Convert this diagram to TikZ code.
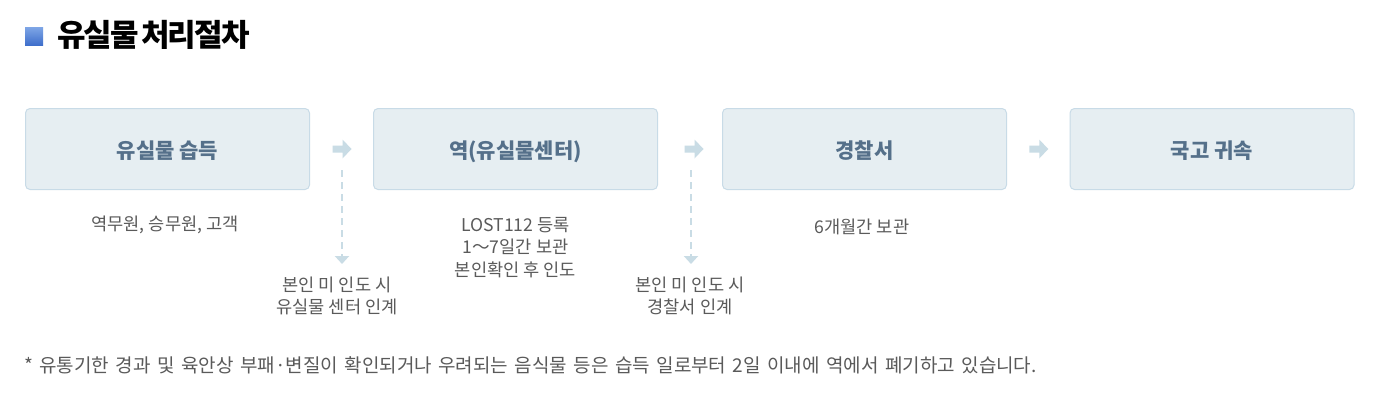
\documentclass[tikz,border=0pt]{standalone}
\usepackage{fontspec}
\setmainfont{Noto Sans CJK KR}
\usetikzlibrary{arrows.meta}
\definecolor{boxfill}{HTML}{E6EEF2}
\definecolor{boxline}{HTML}{C8DBE7}
\definecolor{boxtext}{HTML}{55708A}
\definecolor{arrowc}{HTML}{C9DCE5}
\definecolor{graytext}{HTML}{5A5A5A}
\definecolor{sqtop}{HTML}{7FA6E6}
\definecolor{sqbot}{HTML}{3F6FCB}
\tikzset{
  x=1pt,y=-1pt,
  stage/.style={draw=boxline,fill=boxfill,rounded corners=4.5pt,line width=1pt,minimum width=284pt,minimum height=81pt,inner sep=0pt,text=boxtext,text height=18pt,text depth=0pt,font=\fontsize{21}{24}\selectfont\bfseries,anchor=center},
  note/.style={text=graytext,font=\fontsize{17.6}{22.4}\selectfont,align=center,inner sep=0pt,anchor=center},
  blockarrow/.pic={\fill[arrowc] (-9,-3.5) -- (1,-3.5) -- (1,-9.5) -- (10,0) -- (1,9.5) -- (1,3.5) -- (-9,3.5) -- cycle;},
  dashline/.style={arrowc,line width=2.6pt,dash pattern=on 7pt off 5pt,-{Triangle[length=8pt,width=14pt]}}
}
\begin{document}
\begin{tikzpicture}
\useasboundingbox (0,0) rectangle (1375,405);
\fill[white] (0,0) rectangle (1375,405);
\shade[top color=sqtop,bottom color=sqbot] (25,27) rectangle (43,45);
\node[anchor=west,inner sep=0pt,font=\fontsize{31}{34}\selectfont\bfseries\addfontfeature{LetterSpace=-6},text=black] (title) at (57,35) {\spaceskip=2pt 유실물 처리절차};
\node[stage] (s1) at (167.5,149) {유실물 습득};
\node[stage] (s2) at (515.5,149) {역(유실물센터)};
\node[stage] (s3) at (864.5,149) {경찰서};
\node[stage] (s4) at (1212,149) {국고 귀속};
\path (s1.east) -- (s2.west) coordinate[midway] (a1);
\path (s2.east) -- (s3.west) coordinate[midway,xshift=3.5pt] (a2);
\path (s3.east) -- (s4.west) coordinate[midway] (a3);
\pic at (a1) {blockarrow};
\pic at (a2) {blockarrow};
\pic at (a3) {blockarrow};
\node[note] (n1) at (165,225) {역무원, 승무원, 고객};
\node[note] (n2) at (515.5,247.5) {LOST112 등록\\1～7일간 보관\\본인확인 후 인도};
\node[note] (n3) at (862,226.5) {6개월간 보관};
\node[note] (d1) at (337,296) {본인 미 인도 시\\유실물 센터 인계};
\node[note] (d2) at (690,296) {본인 미 인도 시\\경찰서 인계};
\coordinate (p1) at (342,170);
\coordinate (q1) at (342,264);
\coordinate (p2) at (691,170);
\coordinate (q2) at (691,264);
\draw[dashline] (p1) -- (q1);
\draw[dashline] (p2) -- (q2);
\node[anchor=west,inner sep=0pt,text=graytext,font=\fontsize{19}{21}\selectfont] (foot) at (24,365) {\spaceskip=6.45pt * 유통기한 경과 및 육안상 부패·변질이 확인되거나 우려되는 음식물 등은 습득 일로부터 2일 이내에 역에서 폐기하고 있습니다.};
\end{tikzpicture}
\end{document}
